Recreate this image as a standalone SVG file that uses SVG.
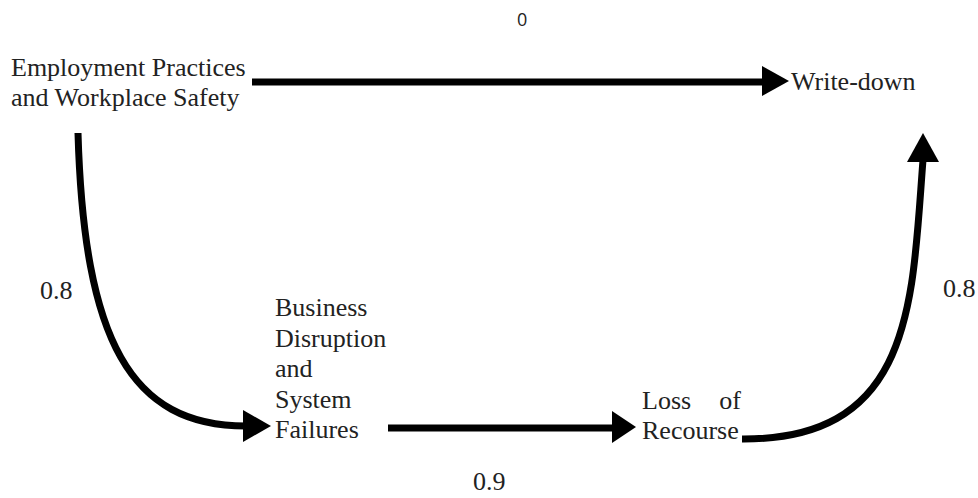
<svg xmlns="http://www.w3.org/2000/svg" width="978" height="498" viewBox="0 0 978 498">
<style>
  .t { font-family: "Liberation Serif", "Times New Roman", serif; font-size: 26px; fill: #222; }
  .lbl { font-family: "Liberation Serif", "Times New Roman", serif; font-size: 26px; fill: #222; }
  .z { font-family: "Open Sans", "Liberation Sans", sans-serif; font-size: 18px; fill: #222; }
  .edge { fill: none; stroke: #000; stroke-width: 7; }
  .head { fill: #000; }
</style>
<rect width="978" height="498" fill="#fff"/>
<g id="connectors">
  <line class="edge" x1="252" y1="82" x2="765" y2="82"/>
  <polygon class="head" points="762,66 789,81 762,96"/>
  <path class="edge" d="M78,133 C84,340 130,426 246,426"/>
  <polygon class="head" points="243,410 271,426 243,442"/>
  <line class="edge" x1="388" y1="428" x2="615" y2="428"/>
  <polygon class="head" points="612,411 636,427 612,443"/>
  <path class="edge" d="M742,439 C915,440 912,300 923,160"/>
  <polygon class="head" points="907,162 923,133 939,162"/>
</g>
<g id="labels">
  <text class="z" x="517" y="26">0</text>
  <text class="lbl" x="40" y="299">0.8</text>
  <text class="lbl" x="943" y="297">0.8</text>
  <text class="lbl" x="473" y="490">0.9</text>
</g>
<g id="node-employment">
  <text class="t" x="11" y="76">Employment Practices</text>
  <text class="t" x="11" y="106">and Workplace Safety</text>
</g>
<g id="node-writedown">
  <text class="t" x="791" y="90">Write-down</text>
</g>
<g id="node-business">
  <text class="t" x="275" y="316">Business</text>
  <text class="t" x="275" y="347">Disruption</text>
  <text class="t" x="275" y="377">and</text>
  <text class="t" x="275" y="408">System</text>
  <text class="t" x="275" y="438">Failures</text>
</g>
<g id="node-loss">
  <text class="t"><tspan x="642" y="409">Loss</tspan><tspan x="741" y="409" text-anchor="end">of</tspan></text>
  <text class="t" x="642" y="439">Recourse</text>
</g>
</svg>
